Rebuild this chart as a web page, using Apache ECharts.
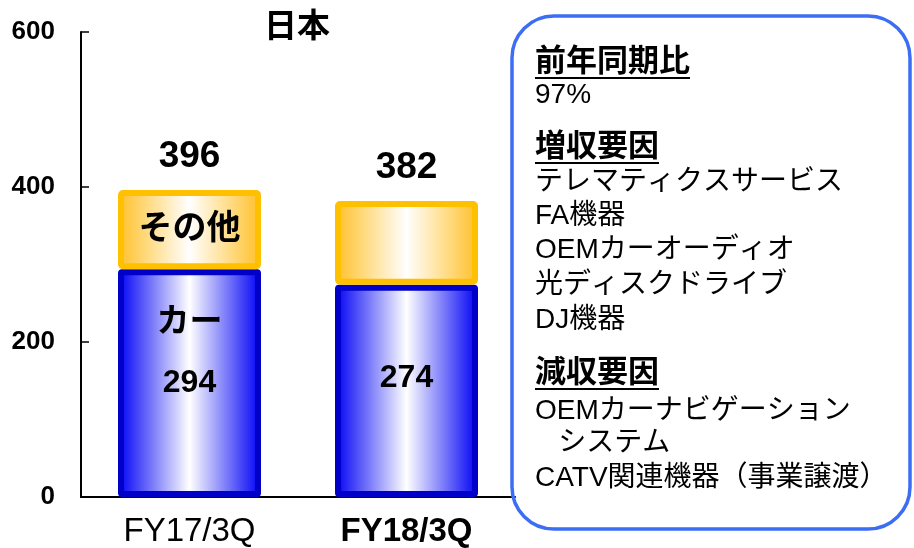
<!DOCTYPE html>
<html><head><meta charset="utf-8">
<script src="https://cdn.jsdelivr.net/npm/echarts@6/dist/echarts.min.js"></script>
<style>html,body{margin:0;padding:0;background:#fff}#c{width:914px;height:548px}</style>
</head><body><div id="c"></div>
<script>
const categories = ['FY17/3Q', 'FY18/3Q'];
const carValues = [294, 274];
const otherValues = [102, 108];
const totals = [396, 382];
const yMin = 0, yMax = 600, yInterval = 200;
const titleText = '日本';
const carLabel = 'カー';
const otherLabel = 'その他';
const panelYoY = ['前年同期比', '97%'];
const panelUp = ['増収要因', 'テレマティクスサービス', 'FA機器', 'OEMカーオーディオ', '光ディスクドライブ', 'DJ機器'];
const panelDown = ['減収要因', 'OEMカーナビゲーション', '   システム', 'CATV関連機器（事業譲渡）'];

const FONT = '"Liberation Sans", Arial, "Noto Sans CJK JP", sans-serif';
const chart = echarts.init(document.getElementById('c'));

const blueFill = new echarts.graphic.LinearGradient(0, 0, 1, 0, [
  {offset: 0, color: '#0000F5'}, {offset: 0.5, color: '#FFFFFF'}, {offset: 1, color: '#0000F5'}]);
const orangeFill = new echarts.graphic.LinearGradient(0, 0, 1, 0, [
  {offset: 0, color: '#FFC028'}, {offset: 0.5, color: '#FFFFFF'}, {offset: 1, color: '#FFC028'}]);

const panelX = 535;
const graphics = [];
graphics.push({type: 'rect', shape: {x: 512, y: 16, width: 398, height: 513, r: 42},
  style: {fill: 'rgba(0,0,0,0)', stroke: '#3B6EF5', lineWidth: 3.5}, z: 10});
graphics.push({type: 'text', x: 297, y: 28, style: {text: titleText, font: 'bold 33px ' + FONT,
  fill: '#000', textAlign: 'center', textVerticalAlign: 'middle'}, z: 10});

function header(text, y) {
  const fs = 31;
  graphics.push({type: 'text', x: panelX, y: y, style: {text: text, font: 'bold ' + fs + 'px ' + FONT,
    fill: '#000', textAlign: 'left', textVerticalAlign: 'middle'}, z: 10});
  const w = echarts.format.getTextRect ? echarts.format.getTextRect(text, 'bold ' + fs + 'px ' + FONT).width : text.length * fs;
  graphics.push({type: 'line', shape: {x1: panelX, y1: y + 16, x2: panelX + w, y2: y + 16},
    style: {stroke: '#000', lineWidth: 2}, z: 10});
}
function body(text, y) {
  graphics.push({type: 'text', x: panelX, y: y, style: {text: text, font: '28px ' + FONT,
    fill: '#000', textAlign: 'left', textVerticalAlign: 'middle'}, z: 10});
}
header(panelYoY[0], 62);
body(panelYoY[1], 95);
header(panelUp[0], 147);
const upYs = [182, 216, 250, 285, 320];
panelUp.slice(1).forEach((t, i) => body(t, upYs[i]));
header(panelDown[0], 373);
const downYs = [411, 443, 478];
panelDown.slice(1).forEach((t, i) => body(t, downYs[i]));

const carData = carValues.map((v, i) => ({
  value: v,
  label: i === 0
    ? {formatter: '{n|' + carLabel + '}\n{v|' + v + '}', offset: [0, -30]}
    : {formatter: '{v|' + v + '}', offset: [0, -13]}
}));
const otherData = otherValues.map((v, i) => ({
  value: v,
  label: {show: i === 0, formatter: otherLabel}
}));
const totalData = totals.map(() => 0);

chart.setOption({
  animation: false,
  textStyle: {fontFamily: FONT},
  grid: {left: 81, right: 399, top: 32, bottom: 51},
  xAxis: {
    type: 'category', data: categories,
    axisLine: {lineStyle: {color: '#000', width: 2}},
    axisTick: {show: false},
    axisLabel: {
      interval: 0, margin: 18, fontSize: 33, color: '#000', fontFamily: FONT,
      formatter: (v, i) => i === 1 ? '{b|' + v + '}' : v,
      rich: {b: {fontWeight: 'bold', fontSize: 33, color: '#000', fontFamily: FONT}}
    }
  },
  yAxis: {
    type: 'value', min: yMin, max: yMax, interval: yInterval,
    axisLine: {show: true, lineStyle: {color: '#000', width: 2}},
    axisTick: {show: true, inside: true, length: 8, lineStyle: {color: '#000', width: 1.5}},
    splitLine: {show: false},
    axisLabel: {margin: 26, fontSize: 26, fontWeight: 'bold', color: '#000', fontFamily: FONT}
  },
  series: [
    {
      type: 'bar', stack: 's', data: carData, barWidth: 143,
      itemStyle: {color: blueFill, borderColor: '#0000C8', borderWidth: 6, borderRadius: 1},
      label: {show: true, position: 'inside', color: '#000',
        rich: {
          n: {fontSize: 33, fontWeight: 'bold', color: '#000', lineHeight: 61, fontFamily: FONT},
          v: {fontSize: 32, fontWeight: 'bold', color: '#000', lineHeight: 61, fontFamily: FONT}
        }}
    },
    {
      type: 'bar', stack: 's', data: otherData, barWidth: 143,
      itemStyle: {color: orangeFill, borderColor: '#FFC000', borderWidth: 6, borderRadius: 2},
      label: {position: 'inside', color: '#000', fontSize: 34, fontWeight: 'bold', fontFamily: FONT}
    },
    {
      type: 'bar', stack: 's', data: totalData, barWidth: 143,
      itemStyle: {color: 'rgba(0,0,0,0)', borderWidth: 0},
      label: {show: true, position: 'top', distance: 15, color: '#000', fontSize: 37,
        fontWeight: 'bold', fontFamily: FONT, formatter: p => String(totals[p.dataIndex])}
    }
  ],
  graphic: graphics
});
</script>
</body></html>
